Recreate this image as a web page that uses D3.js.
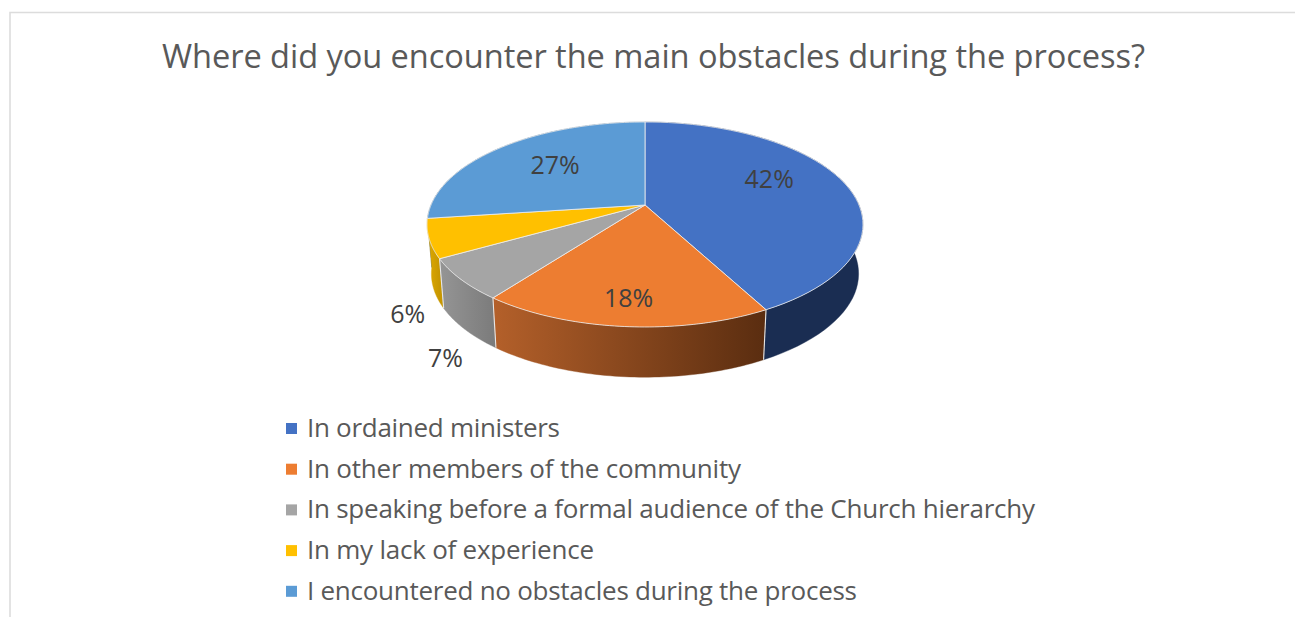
<!DOCTYPE html>
<html><head><meta charset="utf-8">
<script src="https://cdn.jsdelivr.net/npm/d3@7/dist/d3.min.js"></script>
<style>html,body{margin:0;padding:0;background:#fff;overflow:hidden}svg{display:block}text{font-family:"Open Sans","Noto Sans",sans-serif}</style>
</head><body><svg id="c" width="1295" height="617"></svg>
<script>
const titleText = "Where did you encounter the main obstacles during the process?";
const categories = ["In ordained ministers","In other members of the community","In speaking before a formal audience of the Church hierarchy","In my lack of experience","I encountered no obstacles during the process"];
const values = [42.2,18.1,6.5,6.1,27.1];
const colors = ["#4472C4","#ED7D31","#A5A5A5","#FFC000","#5B9BD5"];
const wallStart = ["#1A2D52","#B4602A","#959595","#E0AA00","#365D80"];
const wallEnd = ["#1A2D52","#5A2D10","#7C7C7C","#C79700","#365D80"];

// layout
const W=1295,H=617, cx=645, cy=205, a=214, b=98.8, k=-0.19, depth=49, sx=0.98, sy=1.01;
const labelNudge=[[3,-12],[-5,26],[-95,111],[-111,89],[0,-3.5]];
const svg=d3.select("#c");
const color=d3.scaleOrdinal().domain(categories).range(colors);
const pieGen=d3.pie().sort(null).value(d=>d.v).startAngle(0).endAngle(2*Math.PI);
const arcs=pieGen(categories.map((c,i)=>({c,v:values[i],i})));

// perspective projection of a unit disc
function proj(t,r=1){const x=Math.sin(t)*r,y=-Math.cos(t)*r,den=1+k*y;return [a*x/den,b*y/den];}
const topPt=(t,r=1)=>{const p=proj(t,r);return [cx+p[0],cy+p[1]];};
const botPt=t=>{const p=proj(t);return [cx+p[0]*sx,cy+p[1]*sy+depth];};
const samples=(s,e)=>d3.range(0,61).map(i=>s+(e-s)*i/60);
const line=d3.line();

svg.append("rect").attr("width",W).attr("height",H).attr("fill","#fff");
// frame
svg.append("path").attr("d","M10,617V12.5H1295").attr("fill","none").attr("stroke","#DCDCDC").attr("stroke-width",1.6);

const defs=svg.append("defs");
arcs.forEach(d=>{
  const xs=samples(d.startAngle,d.endAngle).map(t=>topPt(t)[0]);
  defs.append("linearGradient").attr("id","w"+d.data.i).attr("gradientUnits","userSpaceOnUse")
    .attr("x1",d3.min(xs)).attr("x2",d3.max(xs)).attr("y1",0).attr("y2",0)
    .selectAll("stop").data([[0,wallStart[d.data.i]],[1,wallEnd[d.data.i]]]).join("stop")
    .attr("offset",s=>s[0]).attr("stop-color",s=>s[1]);
});

// walls, back slices first
const order=[4,0,3,2,1];
svg.append("g").selectAll("path").data(order.map(i=>arcs[i])).join("path")
  .attr("d",d=>{const ts=samples(d.startAngle,d.endAngle);
    return line(ts.map(t=>topPt(t)).concat(ts.slice().reverse().map(botPt)))+"Z";})
  .attr("fill",d=>`url(#w${d.data.i})`).attr("stroke",d=>`url(#w${d.data.i})`).attr("stroke-width",0.4);
// wall seams between visible front slices
svg.append("g").selectAll("line").data(arcs.slice(0,3)).join("line")
  .attr("x1",d=>topPt(d.endAngle)[0]).attr("y1",d=>topPt(d.endAngle)[1])
  .attr("x2",d=>botPt(d.endAngle)[0]).attr("y2",d=>botPt(d.endAngle)[1])
  .attr("stroke","#E6E6E6").attr("stroke-width",1.1);

// top face
svg.append("g").selectAll("path").data(arcs).join("path")
  .attr("d",d=>line([[cx,cy]].concat(samples(d.startAngle,d.endAngle).map(t=>topPt(t))))+"Z")
  .attr("fill",d=>color(d.data.c)).attr("stroke","#EFEFEF").attr("stroke-width",0.8).attr("stroke-linejoin","round");

// title
svg.append("text").text(titleText).attr("x",653.5).attr("y",68).attr("text-anchor","middle")
  .attr("font-size",32.6).attr("fill","#595959").attr("textLength",983).attr("lengthAdjust","spacing");

// data labels
svg.append("g").selectAll("text").data(arcs).join("text")
  .text(d=>Math.round(d.data.v)+"%")
  .attr("x",d=>topPt((d.startAngle+d.endAngle)/2,0.6)[0]+labelNudge[d.data.i][0])
  .attr("y",d=>topPt((d.startAngle+d.endAngle)/2,0.6)[1]+labelNudge[d.data.i][1]+9)
  .attr("text-anchor","middle").attr("font-size",25).attr("fill","#404040");

// legend
const rowY=d3.scalePoint().domain(categories).range([428.5,591.3]);
const legendWidths=[253,434,728,287,550];
const lg=svg.append("g").selectAll("g").data(categories).join("g").attr("transform",c=>`translate(0,${rowY(c)})`);
lg.append("rect").attr("x",286).attr("y",-5.5).attr("width",11).attr("height",11).attr("fill",c=>color(c));
lg.append("text").text(c=>c).attr("x",307).attr("y",8.3).attr("font-size",26).attr("fill","#595959")
  .attr("textLength",(c,i)=>legendWidths[i]).attr("lengthAdjust","spacing");
</script></body></html>
